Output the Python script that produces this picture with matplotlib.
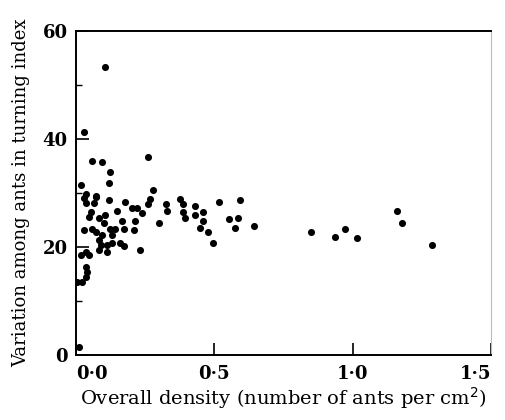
import numpy as np
import matplotlib
matplotlib.use('Agg')
import matplotlib.pyplot as plt
from matplotlib.ticker import FixedLocator, FuncFormatter

# density (ants per cm^2) and variation in turning index
density = [
    0.107, 0.029, 0.057, 0.095, 0.260, 0.124, 0.120, 0.020, 0.280, 0.036, 0.072,
    0.029, 0.035, 0.071, 0.119, 0.176, 0.065, 0.149, 0.203, 0.221, 0.239,
    0.047, 0.053, 0.083, 0.107, 0.167, 0.215, 0.029, 0.059, 0.071, 0.125,
    0.143, 0.173, 0.131, 0.209, 0.083, 0.089, 0.113, 0.131, 0.161, 0.173,
    0.083, 0.113, 0.233, 0.035, 0.017, 0.047, 0.035, 0.041, 0.035, 0.023,
    0.005, 0.095, 0.101, 0.012,
    0.267, 0.260, 0.325, 0.330, 0.375, 0.387, 0.387, 0.396, 0.432, 0.432,
    0.460, 0.460, 0.448, 0.478, 0.496, 0.300, 0.519, 0.592, 0.552, 0.587,
    0.574, 0.643,
    0.851, 0.937, 0.972, 1.016, 1.160, 1.178, 1.288,
]
variation = [
    53.4, 41.3, 35.9, 35.7, 36.6, 33.8, 31.8, 31.5, 30.6, 29.8, 29.5,
    29.0, 28.1, 29.3, 28.7, 28.3, 28.1, 26.6, 27.2, 27.2, 26.2,
    25.6, 26.5, 25.3, 25.9, 24.8, 24.8, 23.1, 23.4, 22.8, 23.4,
    23.4, 23.4, 22.2, 23.1, 21.3, 20.4, 20.4, 20.7, 20.7, 20.1,
    19.4, 19.1, 19.5, 19.1, 18.5, 18.5, 16.3, 15.4, 14.5, 13.6,
    13.6, 22.2, 24.4, 1.4,
    28.8, 28.0, 28.0, 26.7, 28.8, 28.0, 26.5, 25.3, 27.6, 25.9,
    26.4, 24.9, 23.6, 22.8, 20.8, 24.5, 28.3, 28.7, 25.2, 25.4,
    23.6, 23.8,
    22.7, 21.9, 23.4, 21.6, 26.7, 24.4, 20.4,
]

x_ticks = [0.0, 0.5, 1.0, 1.5]
y_ticks = [0, 20, 40, 60]

plt.rcParams['font.family'] = ['DejaVu Serif']

fig = plt.figure(figsize=(5.06, 4.2), dpi=100)
ax = fig.add_axes([0.150, 0.155, 0.820, 0.771])

ax.scatter(density, variation, s=26, color='black', linewidths=0, zorder=3)

ax.set_xlim(0, 1.5)
ax.set_ylim(0, 60)
ax.xaxis.set_major_locator(FixedLocator(x_ticks))
ax.yaxis.set_major_locator(FixedLocator(y_ticks))
ax.yaxis.set_minor_locator(FixedLocator([10, 30, 50]))
ax.xaxis.set_major_formatter(FuncFormatter(lambda v, p: '{:.1f}'.format(v).replace('.', '\u00b7')))

ax.tick_params(axis='both', which='major', direction='in', length=9, width=1.2,
               labelsize=13)
ax.tick_params(axis='x', which='major', pad=7)
ax.tick_params(axis='y', which='major', pad=6)
ax.tick_params(axis='y', which='minor', direction='in', length=4.5, width=1.0)
for lab in ax.get_xticklabels() + ax.get_yticklabels():
    lab.set_fontweight('bold')
xlabs = ax.get_xticklabels()
xlabs[0].set_horizontalalignment('left')
xlabs[-1].set_horizontalalignment('right')

for side in ['left', 'bottom', 'top']:
    ax.spines[side].set_linewidth(1.4)
ax.spines['right'].set_linewidth(0.8)
ax.spines['right'].set_color('#bbbbbb')

ax.set_xlabel('Overall density (number of ants per cm$^2$)', fontsize=14, labelpad=2)
ax.set_ylabel('Variation among ants in turning index', fontsize=13, labelpad=9)

fig.savefig('out.png', dpi=100)
